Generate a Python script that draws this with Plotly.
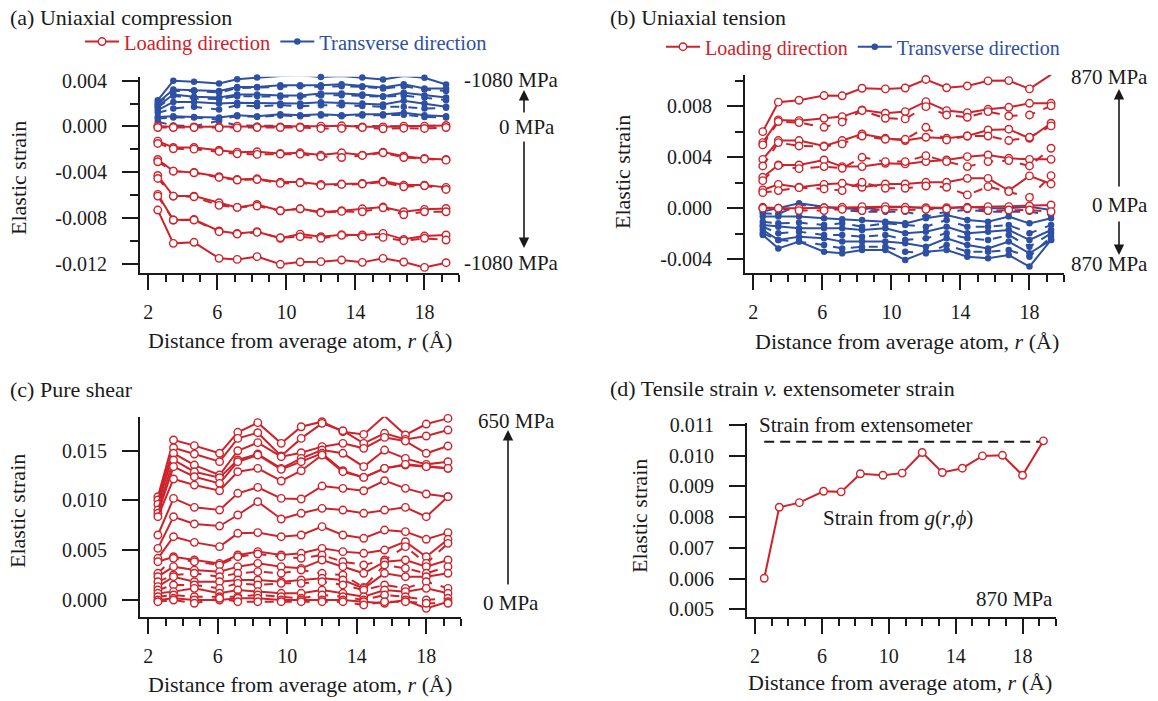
import plotly.graph_objects as go

# Shell radii (Å) at which the strain was evaluated
r = [2.55, 3.45, 4.65, 6.1, 7.15, 8.3, 9.65, 10.8, 12.0, 13.2, 14.4, 15.6, 16.8, 18.0, 19.25]

# ---------------- (a) uniaxial compression ----------------
comp_loading = [
    [-0.00730, -0.01021, -0.01012, -0.01152, -0.01161, -0.01137, -0.01204, -0.01184, -0.01181, -0.01167, -0.01187, -0.01152, -0.01184, -0.01231, -0.01190],
    [-0.00593, -0.00817, -0.00812, -0.00913, -0.00934, -0.00919, -0.00977, -0.00940, -0.00963, -0.00945, -0.00948, -0.00934, -0.00986, -0.00957, -0.00948],
    [-0.00608, -0.00817, -0.00817, -0.00919, -0.00940, -0.00925, -0.00972, -0.00963, -0.00977, -0.00951, -0.00963, -0.00969, -0.00998, -0.00977, -0.00992],
    [-0.00428, -0.00608, -0.00608, -0.00666, -0.00707, -0.00681, -0.00736, -0.00719, -0.00748, -0.00736, -0.00719, -0.00704, -0.00745, -0.00724, -0.00716],
    [-0.00454, -0.00608, -0.00614, -0.00689, -0.00707, -0.00695, -0.00736, -0.00719, -0.00753, -0.00742, -0.00745, -0.00710, -0.00771, -0.00745, -0.00745],
    [-0.00288, -0.00390, -0.00401, -0.00439, -0.00463, -0.00457, -0.00486, -0.00486, -0.00506, -0.00503, -0.00497, -0.00477, -0.00512, -0.00512, -0.00532],
    [-0.00308, -0.00390, -0.00404, -0.00445, -0.00468, -0.00463, -0.00497, -0.00492, -0.00515, -0.00506, -0.00503, -0.00486, -0.00527, -0.00518, -0.00550],
    [-0.00128, -0.00183, -0.00183, -0.00207, -0.00224, -0.00221, -0.00236, -0.00230, -0.00250, -0.00230, -0.00250, -0.00224, -0.00259, -0.00279, -0.00288],
    [-0.00148, -0.00195, -0.00198, -0.00218, -0.00239, -0.00244, -0.00241, -0.00241, -0.00262, -0.00271, -0.00253, -0.00230, -0.00271, -0.00285, -0.00294],
    [0.00003, -0.00003, -0.00003, -0.00003, 0.00003, -0.00003, -0.00003, -0.00003, 0.00003, 0.00006, -0.00003, -0.00003, 0.00003, 0.00003, 0.00009],
    [-0.00009, -0.00009, -0.00009, -0.00012, -0.00012, -0.00009, -0.00009, -0.00009, -0.00017, -0.00017, -0.00009, -0.00020, -0.00015, -0.00017, -0.00009],
]
comp_loading_dash = ["solid", "solid", "dash", "solid", "dash", "solid", "dash", "solid", "dash", "solid", "dash"]

comp_transverse = [
    [0.00230, 0.00399, 0.00390, 0.00375, 0.00413, 0.00428, 0.00442, 0.00448, 0.00433, 0.00442, 0.00428, 0.00410, 0.00442, 0.00425, 0.00367],
    [0.00207, 0.00323, 0.00317, 0.00311, 0.00346, 0.00346, 0.00361, 0.00361, 0.00361, 0.00369, 0.00352, 0.00340, 0.00369, 0.00332, 0.00332],
    [0.00195, 0.00311, 0.00311, 0.00297, 0.00335, 0.00340, 0.00346, 0.00352, 0.00346, 0.00352, 0.00346, 0.00332, 0.00352, 0.00323, 0.00311],
    [0.00177, 0.00279, 0.00259, 0.00253, 0.00279, 0.00279, 0.00271, 0.00271, 0.00288, 0.00288, 0.00279, 0.00265, 0.00294, 0.00271, 0.00253],
    [0.00166, 0.00268, 0.00244, 0.00239, 0.00265, 0.00265, 0.00259, 0.00259, 0.00271, 0.00273, 0.00268, 0.00259, 0.00271, 0.00253, 0.00230],
    [0.00143, 0.00215, 0.00215, 0.00201, 0.00207, 0.00207, 0.00201, 0.00201, 0.00212, 0.00207, 0.00201, 0.00192, 0.00224, 0.00201, 0.00172],
    [0.00119, 0.00157, 0.00172, 0.00148, 0.00186, 0.00177, 0.00186, 0.00177, 0.00186, 0.00186, 0.00180, 0.00172, 0.00172, 0.00157, 0.00163],
    [0.00084, 0.00090, 0.00084, 0.00079, 0.00099, 0.00090, 0.00108, 0.00099, 0.00108, 0.00099, 0.00108, 0.00108, 0.00119, 0.00099, 0.00090],
    [0.00070, 0.00079, 0.00079, 0.00061, 0.00090, 0.00084, 0.00096, 0.00090, 0.00096, 0.00090, 0.00096, 0.00096, 0.00102, 0.00084, 0.00079],
    [0.00041, 0.00009, 0.00003, 0.00049, 0.00009, 0.00006, 0.00003, 0.00003, 0.00006, 0.00003, 0.00003, 0.00003, 0.00003, 0.00003, 0.00009],
]
comp_transverse_dash = ["solid", "solid", "dash", "solid", "dash", "solid", "dash", "solid", "dash", "dash"]

# ---------------- (b) uniaxial tension ----------------
tension_870 = [0.00601, 0.00832, 0.00847, 0.00884, 0.00882, 0.00941, 0.00936, 0.00943, 0.01010, 0.00945, 0.00959, 0.00999, 0.01001, 0.00936, 0.01048]
tens_loading = [
    tension_870,
    [0.00515, 0.00693, 0.00687, 0.00706, 0.00719, 0.00771, 0.00745, 0.00758, 0.00836, 0.00766, 0.00750, 0.00776, 0.00792, 0.00823, 0.00823],
    [0.00497, 0.00680, 0.00672, 0.00635, 0.00677, 0.00766, 0.00706, 0.00701, 0.00797, 0.00732, 0.00714, 0.00758, 0.00724, 0.00732, 0.00803],
    [0.00384, 0.00531, 0.00531, 0.00489, 0.00531, 0.00583, 0.00549, 0.00531, 0.00557, 0.00549, 0.00567, 0.00614, 0.00620, 0.00549, 0.00667],
    [0.00332, 0.00515, 0.00489, 0.00484, 0.00505, 0.00567, 0.00541, 0.00541, 0.00635, 0.00536, 0.00567, 0.00567, 0.00531, 0.00557, 0.00646],
    [0.00243, 0.00340, 0.00340, 0.00379, 0.00327, 0.00327, 0.00353, 0.00348, 0.00366, 0.00379, 0.00405, 0.00418, 0.00392, 0.00384, 0.00384],
    [0.00217, 0.00335, 0.00311, 0.00327, 0.00314, 0.00400, 0.00366, 0.00366, 0.00413, 0.00366, 0.00327, 0.00366, 0.00374, 0.00332, 0.00471],
    [0.00144, 0.00188, 0.00165, 0.00188, 0.00196, 0.00165, 0.00191, 0.00191, 0.00204, 0.00204, 0.00235, 0.00235, 0.00139, 0.00254, 0.00191],
    [0.00123, 0.00139, 0.00162, 0.00152, 0.00139, 0.00204, 0.00157, 0.00157, 0.00175, 0.00165, 0.00105, 0.00170, 0.00131, 0.00086, 0.00256],
    [0.00008, 0.0, 0.0, 0.00005, 0.00008, 0.00013, 0.00013, 0.00008, 0.00005, 0.00005, 0.00008, 0.00013, 0.00013, 0.00018, 0.00026],
    [0.0, 0.0, -0.00018, -0.00018, -0.00008, -0.00018, -0.00008, -0.00013, -0.00008, -0.00005, 0.0, -0.00018, -0.00013, -0.00013, -0.00026],
]
tens_loading_dash = ["solid", "solid", "dash", "solid", "dash", "solid", "dash", "solid", "dash", "solid", "dash"]

tens_transverse = [
    [-0.00209, -0.00314, -0.00261, -0.00340, -0.00353, -0.00327, -0.00327, -0.00405, -0.00340, -0.00327, -0.00379, -0.00392, -0.00366, -0.00457, -0.00248],
    [-0.00196, -0.00248, -0.00261, -0.00288, -0.00314, -0.00301, -0.00301, -0.00340, -0.00353, -0.00288, -0.00340, -0.00340, -0.00327, -0.00379, -0.00222],
    [-0.00170, -0.00248, -0.00222, -0.00235, -0.00261, -0.00261, -0.00261, -0.00274, -0.00301, -0.00235, -0.00288, -0.00314, -0.00261, -0.00353, -0.00248],
    [-0.00144, -0.00196, -0.00183, -0.00209, -0.00209, -0.00222, -0.00209, -0.00248, -0.00235, -0.00196, -0.00235, -0.00248, -0.00209, -0.00301, -0.00196],
    [-0.00131, -0.00144, -0.00157, -0.00157, -0.00157, -0.00170, -0.00157, -0.00196, -0.00183, -0.00144, -0.00196, -0.00183, -0.00170, -0.00248, -0.00170],
    [-0.00105, -0.00118, -0.00112, -0.00131, -0.00118, -0.00144, -0.00118, -0.00131, -0.00144, -0.00091, -0.00144, -0.00144, -0.00131, -0.00196, -0.00131],
    [-0.00065, -0.00065, -0.00065, -0.00078, -0.00086, -0.00091, -0.00105, -0.00118, -0.00078, -0.00052, -0.00091, -0.00105, -0.00065, -0.00118, -0.00078],
    [-0.00039, -0.00044, 0.00026, 0.00013, -0.00013, -0.00026, -0.00026, -0.00026, -0.00065, -0.00026, -0.00013, -0.00026, -0.00026, -0.00026, -0.00052],
    [-0.00026, 0.0, 0.00039, 0.00013, 0.0, -0.00008, 0.00013, 0.00013, 0.0, 0.0, 0.00013, 0.0, 0.0, 0.00013, -0.00013],
]
tens_transverse_dash = ["solid", "dash", "solid", "dash", "solid", "dash", "solid", "dash", "solid"]

# ---------------- (c) pure shear ----------------
shear = [
    [0.01038, 0.01608, 0.01551, 0.01474, 0.01685, 0.01782, 0.01574, 0.01741, 0.01792, 0.01691, 0.01664, 0.01849, 0.01658, 0.01768, 0.01825],
    [0.01005, 0.01530, 0.01467, 0.01390, 0.01624, 0.01681, 0.01447, 0.01624, 0.01775, 0.01701, 0.01574, 0.01675, 0.01614, 0.01648, 0.01708],
    [0.00961, 0.01474, 0.01356, 0.01256, 0.01500, 0.01581, 0.01440, 0.01480, 0.01541, 0.01574, 0.01524, 0.01634, 0.01597, 0.01474, 0.01547],
    [0.00904, 0.01407, 0.01289, 0.01229, 0.01407, 0.01467, 0.01323, 0.01423, 0.01507, 0.01474, 0.01340, 0.01507, 0.01423, 0.01363, 0.01390],
    [0.00871, 0.01340, 0.01239, 0.01172, 0.01390, 0.01457, 0.01313, 0.01390, 0.01474, 0.01299, 0.01232, 0.01323, 0.01356, 0.01340, 0.01323],
    [0.00837, 0.01216, 0.01155, 0.01098, 0.01289, 0.01323, 0.01196, 0.01299, 0.01457, 0.01289, 0.01232, 0.01323, 0.01363, 0.01340, 0.01323],
    [0.00653, 0.01021, 0.00931, 0.00904, 0.01072, 0.01132, 0.01021, 0.01015, 0.01145, 0.01122, 0.01098, 0.01199, 0.01122, 0.01065, 0.01038],
    [0.00519, 0.00837, 0.00764, 0.00743, 0.00854, 0.00988, 0.00814, 0.00871, 0.00921, 0.00904, 0.00871, 0.00904, 0.00931, 0.00837, 0.01038],
    [0.00419, 0.00636, 0.00579, 0.00536, 0.00670, 0.00677, 0.00636, 0.00653, 0.00737, 0.00653, 0.00620, 0.00703, 0.00687, 0.00610, 0.00677],
    [0.00385, 0.00435, 0.00402, 0.00368, 0.00452, 0.00486, 0.00452, 0.00469, 0.00519, 0.00486, 0.00469, 0.00502, 0.00586, 0.00435, 0.00610],
    [0.00268, 0.00419, 0.00385, 0.00352, 0.00435, 0.00462, 0.00435, 0.00419, 0.00452, 0.00385, 0.00352, 0.00402, 0.00536, 0.00368, 0.00569],
    [0.00234, 0.00335, 0.00301, 0.00285, 0.00335, 0.00368, 0.00335, 0.00318, 0.00402, 0.00335, 0.00268, 0.00385, 0.00402, 0.00335, 0.00402],
    [0.00184, 0.00251, 0.00268, 0.00234, 0.00268, 0.00285, 0.00268, 0.00301, 0.00268, 0.00251, 0.00127, 0.00352, 0.00318, 0.00268, 0.00335],
    [0.00134, 0.00234, 0.00184, 0.00184, 0.00201, 0.00201, 0.00184, 0.00201, 0.00218, 0.00201, 0.00117, 0.00268, 0.00234, 0.00234, 0.00268],
    [0.00100, 0.00151, 0.00151, 0.00117, 0.00167, 0.00151, 0.00167, 0.00167, 0.00184, 0.00151, 0.00100, 0.00151, 0.00117, 0.00184, 0.00117],
    [0.00067, 0.00084, 0.00117, 0.00067, 0.00100, 0.00084, 0.00067, 0.00067, 0.00100, 0.00067, 0.00033, 0.00100, 0.00084, 0.00117, 0.00067],
    [0.00033, 0.00050, 0.00033, 0.00033, 0.00033, 0.00050, 0.00033, 0.00017, 0.00050, 0.00033, 0.0, 0.00050, 0.00033, 0.0, 0.00017],
    [0.0, 0.00017, 0.0, 0.0, 0.00017, 0.00017, 0.0, 0.0, 0.0, 0.0, -0.00017, -0.00033, 0.0, -0.00084, -0.00017],
    [-0.00017, 0.0, -0.00033, 0.00017, -0.00017, -0.00017, -0.00017, -0.00017, -0.00017, -0.00017, -0.00050, -0.00017, -0.00017, -0.00033, -0.00033],
]
shear_dash = ["solid", "solid", "solid", "solid", "solid", "solid", "solid", "solid", "solid",
              "solid", "dash", "solid", "dash", "solid", "dash", "solid", "dash", "solid", "dash"]

# ---------------- (d) tensile strain vs extensometer ----------------
extensometer_strain = 0.01045

# Axis ticks
x_ticks = [2, 6, 10, 14, 18]
x_minor = list(range(2, 21))
ya_ticks = [-0.012, -0.008, -0.004, 0.0, 0.004]
ya_minor = [-0.012, -0.010, -0.008, -0.006, -0.004, -0.002, 0.0, 0.002, 0.004]
yb_ticks = [-0.004, 0.0, 0.004, 0.008]
yb_minor = [-0.004, -0.002, 0.0, 0.002, 0.004, 0.006, 0.008, 0.010]
yc_ticks = [0.0, 0.005, 0.010, 0.015]
yd_ticks = [0.005, 0.006, 0.007, 0.008, 0.009, 0.010, 0.011]

RED = "#d0222a"
BLUE = "#2d50a5"
INK = "#1a1a1a"
FONT = "Liberation Serif, Times New Roman, serif"
W, H = 1158, 701


def px(x):
    return x / W


def py(y):
    return 1 - y / H


fig = go.Figure()


def add_curve(y, xa, ya, color, filled, dash, name=None, legend=None, rank=1):
    marker = (dict(symbol="circle", size=6.5, color=color, line=dict(width=0)) if filled
              else dict(symbol="circle", size=7.5, color="white", line=dict(width=1.4, color=color)))
    fig.add_trace(go.Scatter(
        x=r, y=y, xaxis=xa, yaxis=ya, mode="lines+markers",
        line=dict(color=color, width=2, dash=dash), marker=marker,
        name=name or "", showlegend=name is not None, legend=legend or "legend",
        legendrank=rank, hoverinfo="skip", cliponaxis=False))


# (a)
for i, (y, d) in enumerate(zip(comp_transverse, comp_transverse_dash)):
    add_curve(y, "x", "y", BLUE, True, d,
              name=f'<span style="color:{BLUE}">Transverse direction</span>' if i == 0 else None,
              legend="legend", rank=2)
for i, (y, d) in enumerate(zip(comp_loading, comp_loading_dash)):
    add_curve(y, "x", "y", RED, False, d,
              name=f'<span style="color:{RED}">Loading direction</span>' if i == 0 else None,
              legend="legend", rank=1)

# (b)
for i, (y, d) in enumerate(zip(tens_transverse, tens_transverse_dash)):
    add_curve(y, "x2", "y2", BLUE, True, d,
              name=f'<span style="color:{BLUE}">Transverse direction</span>' if i == 0 else None,
              legend="legend2", rank=2)
for i, (y, d) in enumerate(zip(tens_loading, tens_loading_dash)):
    add_curve(y, "x2", "y2", RED, False, d,
              name=f'<span style="color:{RED}">Loading direction</span>' if i == 0 else None,
              legend="legend2", rank=1)

# (c)
for y, d in zip(shear, shear_dash):
    add_curve(y, "x3", "y3", RED, False, d)

# (d)
fig.add_trace(go.Scatter(
    x=[r[0], r[-1]], y=[extensometer_strain, extensometer_strain], xaxis="x4", yaxis="y4",
    mode="lines", line=dict(color=INK, width=2, dash="10px,6px"), showlegend=False, hoverinfo="skip"))
add_curve(tension_870, "x4", "y4", RED, False, "solid")


def x_axis(domain, anchor):
    return dict(domain=domain, anchor=anchor, range=[1.52, 20], tickmode="array",
                tickvals=x_ticks, ticktext=[str(t) for t in x_ticks],
                ticks="outside", ticklen=15, tickwidth=2, tickcolor=INK,
                showline=True, linewidth=2, linecolor=INK, showgrid=False, zeroline=False,
                tickfont=dict(size=20, family=FONT, color=INK), ticklabelstandoff=5,
                minor=dict(tickmode="array", tickvals=x_minor, ticks="outside", ticklen=7,
                           tickwidth=1.5, tickcolor=INK, showgrid=False))


def y_axis(domain, anchor, rng, ticks, minor=None):
    ax = dict(domain=domain, anchor=anchor, range=rng, tickmode="array",
              tickvals=ticks, ticktext=[f"{t:.3f}" for t in ticks],
              ticks="outside", ticklen=16, tickwidth=2, tickcolor=INK,
              showline=True, linewidth=2, linecolor=INK, showgrid=False, zeroline=False,
              tickfont=dict(size=20, family=FONT, color=INK), ticklabelstandoff=11)
    if minor:
        ax["minor"] = dict(tickmode="array", tickvals=minor, ticks="outside", ticklen=8,
                           tickwidth=1.5, tickcolor=INK, showgrid=False)
    return ax


layout = dict(
    width=W, height=H, margin=dict(l=0, r=0, t=0, b=0, autoexpand=False),
    paper_bgcolor="white", plot_bgcolor="white",
    font=dict(family=FONT, size=21, color=INK),
    xaxis=x_axis([px(140), px(459)], "y"),
    yaxis=y_axis([py(273), py(76.7)], "x", [-0.0128, 0.00435], ya_ticks, ya_minor),
    xaxis2=x_axis([px(745), px(1064)], "y2"),
    yaxis2=y_axis([py(273), py(75)], "x2", [-0.00507, 0.01045], yb_ticks, yb_minor),
    xaxis3=x_axis([px(140), px(461)], "y3"),
    yaxis3=y_axis([py(616.7), py(416.7)], "x3", [-0.00168, 0.01842], yc_ticks),
    xaxis4=x_axis([px(747), px(1056)], "y4"),
    yaxis4=y_axis([py(616.7), py(423)], "x4", [0.00476, 0.01106], yd_ticks),
    legend=dict(x=px(80), y=py(41.7), xanchor="left", yanchor="middle", orientation="h",
                bgcolor="rgba(0,0,0,0)", font=dict(size=20.5, family=FONT), traceorder="normal",
                itemwidth=34),
    legend2=dict(x=px(661), y=py(46.7), xanchor="left", yanchor="middle", orientation="h",
                 bgcolor="rgba(0,0,0,0)", font=dict(size=20, family=FONT), traceorder="normal",
                 itemwidth=34),
)
fig.update_layout(**layout)

ann = []


def text(s, x, y, size=21, xanchor="left", color=INK, angle=0):
    ann.append(dict(text=s, x=px(x), y=py(y), xref="paper", yref="paper", showarrow=False,
                    xanchor=xanchor, yanchor="middle", textangle=angle,
                    font=dict(size=size, family=FONT, color=color)))


def arrow(x, y_tip, y_tail):
    ann.append(dict(text="", x=px(x), y=py(y_tip), xref="paper", yref="paper",
                    showarrow=True, ax=0, ay=y_tail - y_tip, arrowhead=2, arrowsize=1.3,
                    arrowwidth=1.6, arrowcolor=INK))


# Panel titles
text("(a) Uniaxial compression", 8, 17, size=22)
text("(b) Uniaxial tension", 608, 17, size=22)
text("(c) Pure shear", 8, 389, size=22)
text("(d) Tensile strain <i>v.</i> extensometer strain", 608, 388, size=22)

# Axis titles
xtitle = "Distance from average atom, <i>r</i> (Å)"
text(xtitle, 300, 340, size=22, xanchor="center")
text(xtitle, 907, 341, size=22, xanchor="center")
text(xtitle, 300, 684, size=22, xanchor="center")
text(xtitle, 900, 682, size=22, xanchor="center")
text("Elastic strain", 18, 178, size=22, xanchor="center", angle=-90)
text("Elastic strain", 622, 172, size=22, xanchor="center", angle=-90)
text("Elastic strain", 17, 511, size=22, xanchor="center", angle=-90)
text("Elastic strain", 639, 516, size=22, xanchor="center", angle=-90)

# Load annotations, panel (a)
text("-1080 MPa", 561, 80, xanchor="right")
text("0 MPa", 557, 127, xanchor="right")
text("-1080 MPa", 561, 263, xanchor="right")
arrow(524, 90, 114)
arrow(524, 248, 140)

# Load annotations, panel (b)
text("870 MPa", 1150, 77, xanchor="right")
text("0 MPa", 1150, 205, xanchor="right")
text("870 MPa", 1150, 264, xanchor="right")
arrow(1119, 89, 188)
arrow(1119, 255, 220)

# Load annotations, panel (c)
text("650 MPa", 557, 421, xanchor="right")
text("0 MPa", 541, 603, xanchor="right")
arrow(508, 430, 586)

# Labels, panel (d)
text("Strain from extensometer", 757, 425)
text("Strain from <i>g</i>(<i>r</i>,<i>ϕ</i>)", 821, 518)
text("870 MPa", 1055, 599, xanchor="right")

fig.update_layout(annotations=ann)
fig.write_html("out.html")
